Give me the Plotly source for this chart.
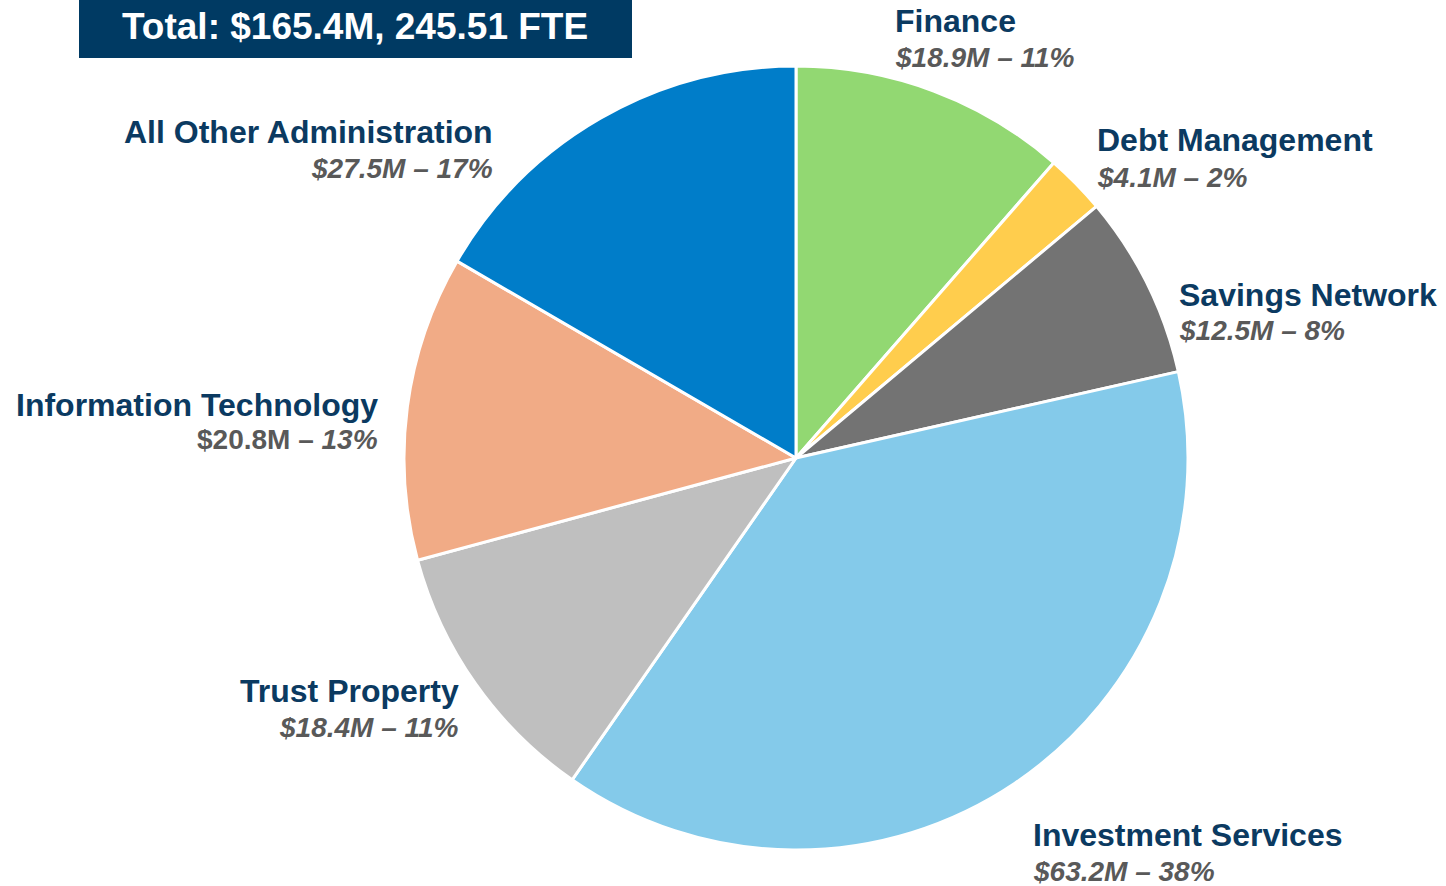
import plotly.graph_objects as go

W, H = 1446, 886

divisions = [
    "Finance",
    "Debt Management",
    "Savings Network",
    "Investment Services",
    "Trust Property",
    "Information Technology",
    "All Other Administration",
]
amounts = [18.9, 4.1, 12.5, 63.2, 18.4, 20.8, 27.5]
shares = [11, 2, 8, 38, 11, 13, 17]
colors = ["#92D872", "#FFCD4D", "#737373", "#84CAEA", "#BFBFBF", "#F1AB86", "#007DC9"]

total_label = "Total: $165.4M, 245.51 FTE"

NAVY = "#0B3A61"
GREY = "#595959"
FONT = "Arial, Liberation Sans, sans-serif"

# label anchor positions in pixels: (x, y title, y value, side)
label_pos = {
    "Finance": (896, 21, 57, "left"),
    "Debt Management": (1098, 140, 177, "left"),
    "Savings Network": (1180, 295, 330, "left"),
    "Investment Services": (1034, 835, 871, "left"),
    "Trust Property": (458, 691, 727, "right"),
    "Information Technology": (377, 405, 440, "right"),
    "All Other Administration": (492, 132, 168, "right"),
}


def px(x):
    return x / W


def py(y):
    return 1 - y / H


fig = go.Figure(
    go.Pie(
        labels=divisions,
        values=amounts,
        sort=False,
        direction="clockwise",
        rotation=0,
        textinfo="none",
        hoverinfo="label+value+percent",
        marker=dict(colors=colors, line=dict(color="white", width=3)),
        domain=dict(x=[px(404), px(1188)], y=[py(850), py(66)]),
        showlegend=False,
    )
)

annotations = []
for name, amt, pct in zip(divisions, amounts, shares):
    x, yt, yv, side = label_pos[name]
    # annotation boxes carry a little padding, nudge to line up with the edge
    shift = -3 if side == "left" else 3
    annotations.append(
        dict(
            x=px(x), y=py(yt), xref="paper", yref="paper", xshift=shift,
            xanchor=side, yanchor="middle", showarrow=False,
            text=f"<b>{name}</b>",
            font=dict(family=FONT, size=32, color=NAVY),
        )
    )
    if name == "Information Technology":
        val = f"<b>${amt}M – <i>{pct}%</i></b>"
    else:
        val = f"<b><i>${amt}M – {pct}%</i></b>"
    annotations.append(
        dict(
            x=px(x), y=py(yv), xref="paper", yref="paper", xshift=shift,
            xanchor=side, yanchor="middle", showarrow=False,
            text=val,
            font=dict(family=FONT, size=28, color=GREY),
        )
    )

# title box
annotations.append(
    dict(
        x=px(355), y=py(27), xref="paper", yref="paper",
        xanchor="center", yanchor="middle", showarrow=False,
        text=f"<b>{total_label}</b>",
        font=dict(family=FONT, size=37, color="white"),
    )
)

fig.update_layout(
    width=W,
    height=H,
    margin=dict(l=0, r=0, t=0, b=0),
    paper_bgcolor="white",
    plot_bgcolor="white",
    annotations=annotations,
    shapes=[
        dict(
            type="rect", xref="paper", yref="paper",
            x0=px(79), x1=px(632), y0=py(58), y1=py(0),
            fillcolor="#003A63", line=dict(width=0), layer="below",
        )
    ],
)

fig.write_html(
    "out.html",
    config={"displayModeBar": False},
    post_script="document.body.style.margin = '0';",
)
